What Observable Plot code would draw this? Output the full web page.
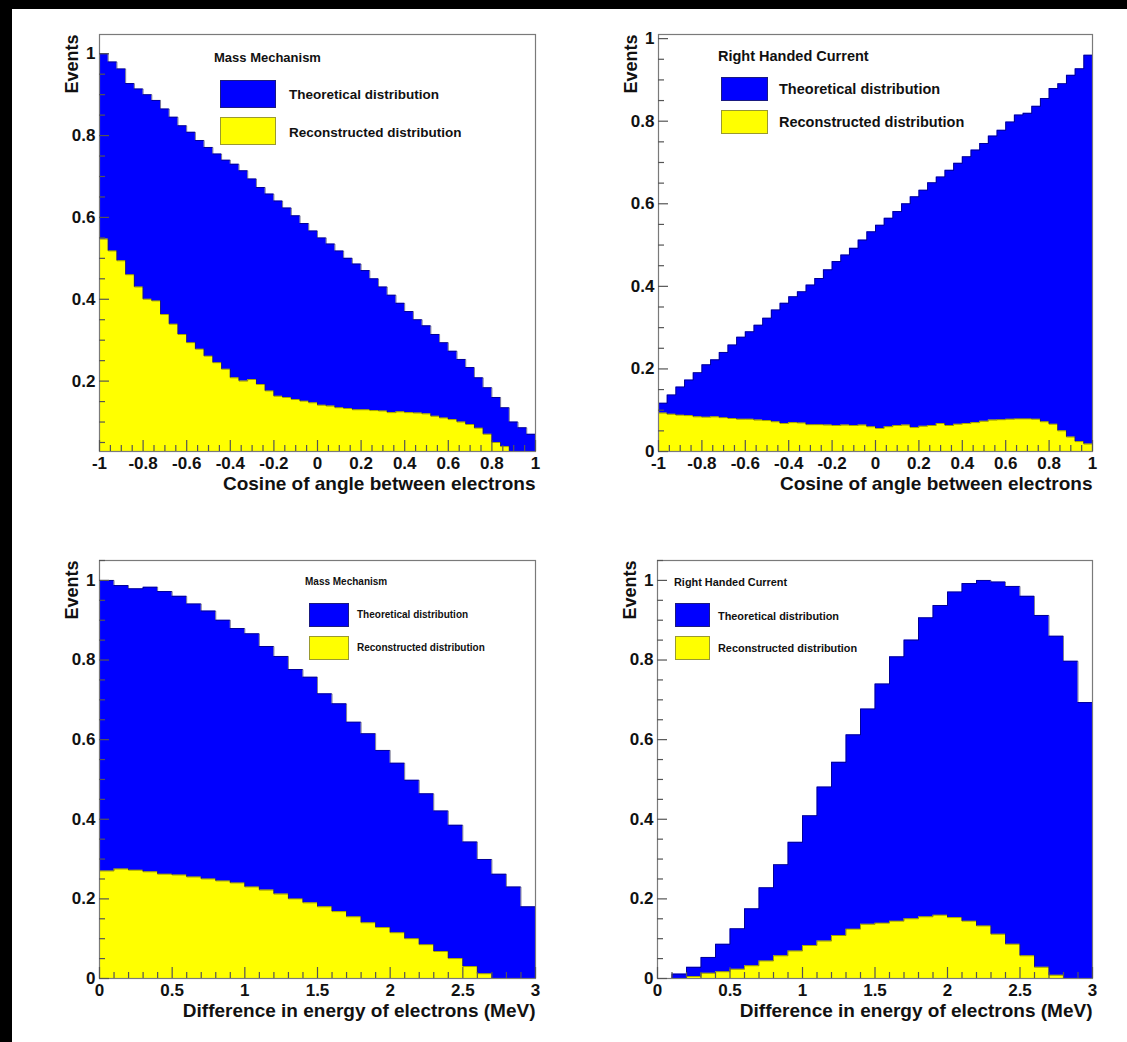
<!DOCTYPE html>
<html>
<head>
<meta charset="utf-8">
<script src="https://cdn.jsdelivr.net/npm/d3@7"></script>
<script src="https://cdn.jsdelivr.net/npm/@observablehq/plot@0.6"></script>
<style>
  html, body { margin: 0; padding: 0; background: #fff; }
  #page { position: relative; width: 1127px; height: 1042px; background: #fff; overflow: hidden;
          font-family: "Liberation Sans", Arial, Helvetica, sans-serif; }
  .panel { position: absolute; }
  .panel svg { display: block; overflow: visible; }
  .leg { position: absolute; font-weight: bold; color: #111; white-space: nowrap; line-height: 1; }
  .box { position: absolute; box-sizing: border-box; }
  .edge { position: absolute; background: #000; z-index: 5; }
</style>
</head>
<body>
<div id="page"></div>
<script>
// ---------------- data ----------------
const cosBinEdges = [-1, -0.96, -0.92, -0.88, -0.84, -0.8, -0.76, -0.72, -0.68, -0.64,
  -0.6, -0.56, -0.52, -0.48, -0.44, -0.4, -0.36, -0.32, -0.28, -0.24,
  -0.2, -0.16, -0.12, -0.08, -0.04, 0, 0.04, 0.08, 0.12, 0.16,
  0.2, 0.24, 0.28, 0.32, 0.36, 0.4, 0.44, 0.48, 0.52, 0.56,
  0.6, 0.64, 0.68, 0.72, 0.76, 0.8, 0.84, 0.88, 0.92, 0.96];
const cosBinWidth = 0.04;
const energyBinEdges = [0, 0.1, 0.2, 0.3, 0.4, 0.5, 0.6, 0.7, 0.8, 0.9,
  1.0, 1.1, 1.2, 1.3, 1.4, 1.5, 1.6, 1.7, 1.8, 1.9,
  2.0, 2.1, 2.2, 2.3, 2.4, 2.5, 2.6, 2.7, 2.8, 2.9];
const energyBinWidth = 0.1;

// Mass mechanism, cosine of angle
const massCosTheo = [1.0, 0.98, 0.963, 0.927, 0.914, 0.9, 0.886, 0.865, 0.845, 0.824,
  0.808, 0.788, 0.771, 0.755, 0.74, 0.73, 0.714, 0.694, 0.673, 0.657,
  0.64, 0.623, 0.604, 0.585, 0.567, 0.55, 0.535, 0.518, 0.5, 0.486,
  0.47, 0.45, 0.43, 0.41, 0.39, 0.37, 0.35, 0.335, 0.314, 0.294,
  0.273, 0.253, 0.233, 0.208, 0.184, 0.16, 0.135, 0.1, 0.086, 0.07];
const massCosReco = [0.547, 0.518, 0.494, 0.46, 0.43, 0.4, 0.396, 0.363, 0.339, 0.314,
  0.294, 0.278, 0.261, 0.245, 0.229, 0.208, 0.2, 0.204, 0.192, 0.176,
  0.163, 0.16, 0.155, 0.151, 0.147, 0.141, 0.139, 0.135, 0.133, 0.13,
  0.13, 0.128, 0.127, 0.123, 0.125, 0.123, 0.122, 0.12, 0.114, 0.11,
  0.106, 0.1, 0.094, 0.085, 0.07, 0.05, 0.04, 0, 0, 0];

// Right handed current, cosine of angle
const rhcCosTheo = [0.117, 0.137, 0.156, 0.173, 0.191, 0.21, 0.222, 0.24, 0.258, 0.277,
  0.29, 0.306, 0.323, 0.343, 0.359, 0.375, 0.387, 0.403, 0.419, 0.44,
  0.46, 0.476, 0.492, 0.512, 0.532, 0.548, 0.565, 0.581, 0.6, 0.617,
  0.633, 0.651, 0.665, 0.681, 0.698, 0.714, 0.73, 0.746, 0.764, 0.778,
  0.798, 0.815, 0.819, 0.836, 0.855, 0.879, 0.891, 0.911, 0.927, 0.96];
const rhcCosReco = [0.093, 0.09, 0.088, 0.087, 0.084, 0.083, 0.084, 0.082, 0.08, 0.078,
  0.078, 0.076, 0.075, 0.072, 0.068, 0.07, 0.069, 0.065, 0.065, 0.064,
  0.063, 0.064, 0.063, 0.064, 0.06, 0.056, 0.06, 0.063, 0.064, 0.058,
  0.061, 0.063, 0.068, 0.063, 0.066, 0.068, 0.07, 0.073, 0.076, 0.077,
  0.078, 0.079, 0.079, 0.078, 0.072, 0.066, 0.05, 0.035, 0.024, 0.018];

// Mass mechanism, energy difference
const massEnergyTheo = [1.0, 0.987, 0.979, 0.983, 0.972, 0.96, 0.941, 0.923, 0.9, 0.879,
  0.866, 0.834, 0.809, 0.776, 0.757, 0.715, 0.69, 0.644, 0.615, 0.573,
  0.541, 0.498, 0.464, 0.421, 0.385, 0.343, 0.299, 0.262, 0.23, 0.18];
const massEnergyReco = [0.27, 0.275, 0.272, 0.268, 0.262, 0.26, 0.255, 0.25, 0.245, 0.24,
  0.23, 0.222, 0.212, 0.2, 0.19, 0.18, 0.168, 0.155, 0.14, 0.128,
  0.115, 0.1, 0.085, 0.068, 0.05, 0.03, 0.012, 0, 0, 0];

// Right handed current, energy difference
const rhcEnergyTheo = [0, 0.011, 0.028, 0.053, 0.086, 0.125, 0.175, 0.228, 0.286, 0.342,
  0.409, 0.481, 0.543, 0.612, 0.677, 0.74, 0.808, 0.85, 0.906, 0.937,
  0.971, 0.992, 1.0, 0.996, 0.985, 0.96, 0.912, 0.86, 0.797, 0.693];
const rhcEnergyReco = [0, 0, 0.005, 0.013, 0.017, 0.023, 0.032, 0.044, 0.057, 0.069,
  0.083, 0.094, 0.108, 0.124, 0.136, 0.139, 0.144, 0.15, 0.155, 0.159,
  0.153, 0.144, 0.132, 0.111, 0.086, 0.057, 0.028, 0.008, 0, 0];

// ticks and labels
const cosMajorTicks = [-1, -0.8, -0.6, -0.4, -0.2, 0, 0.2, 0.4, 0.6, 0.8, 1];
const energyMajorTicks = [0, 0.5, 1, 1.5, 2, 2.5, 3];
const eventsMajorTicks = [0, 0.2, 0.4, 0.6, 0.8, 1];
const cosMinorStep = 0.05, energyMinorStep = 0.1, eventsMinorStep = 0.05;

const seriesNames = ["Theoretical distribution", "Reconstructed distribution"];
const seriesColors = ["#0000ff", "#ffff00"];
const modelNames = ["Mass Mechanism", "Right Handed Current"];
const xTitles = ["Cosine of angle between electrons", "Difference in energy of electrons (MeV)"];
const yTitle = "Events";

// ---------------- drawing ----------------
const fmt = d => String(+(+d).toFixed(2));
const FONT = "Liberation Sans, Arial, Helvetica, sans-serif";

function minorTicks(domain, step) {
  const out = [];
  const n0 = Math.ceil(domain[0] / step - 1e-9), n1 = Math.floor(domain[1] / step + 1e-9);
  for (let i = n0; i <= n1; i++) out.push(+(i * step).toFixed(4));
  return out;
}

// histogram outline points (bin lower edges + closing edge)
function outline(edges, bw, vals) {
  const pts = [{x: edges[0], y: 0}];
  edges.forEach((e, i) => pts.push({x: e, y: vals[i]}));
  const end = edges[edges.length - 1] + bw;
  pts.push({x: end, y: vals[vals.length - 1]});
  pts.push({x: end, y: 0});
  return pts;
}

function panel(cfg) {
  const {edges, bw, theo, reco, xDomain, yDomain, xMajor, xMinorStep, xTitle,
         W, H, ml, mr, mt, mb} = cfg;
  const fw = W - ml - mr, fh = H - mt - mb;
  const theoPts = outline(edges, bw, theo);
  const recoPts = outline(edges, bw, reco);
  const xMinor = minorTicks(xDomain, xMinorStep).filter(v => !xMajor.some(m => Math.abs(m - v) < 1e-6));
  const yMajor = eventsMajorTicks.filter(v => v >= yDomain[0] - 1e-9 && v <= yDomain[1]);
  const yMinor = minorTicks(yDomain, eventsMinorStep).filter(v => !eventsMajorTicks.some(m => Math.abs(m - v) < 1e-6));
  return Plot.plot({
    width: W, height: H,
    marginLeft: ml, marginRight: mr, marginTop: mt, marginBottom: mb,
    x: {domain: xDomain, label: null},
    y: {domain: yDomain, label: null},
    style: {background: "transparent", fontFamily: FONT, overflow: "visible"},
    marks: [
      Plot.areaY(theoPts, {x: "x", y1: 0, y2: "y", curve: "step-after", fill: seriesColors[0], clip: true}),
      Plot.areaY(recoPts, {x: "x", y1: 0, y2: "y", curve: "step-after", fill: seriesColors[1], clip: true}),
      Plot.line(theoPts, {x: "x", y: "y", curve: "step-after", stroke: "#000030", strokeOpacity: 0.5, strokeWidth: 1, clip: true}),
      Plot.line(recoPts, {x: "x", y: "y", curve: "step-after", stroke: "#303000", strokeOpacity: 0.45, strokeWidth: 1, clip: true}),
      Plot.frame({stroke: "#7a7a7a", strokeWidth: 1.2}),
      Plot.tickX(xMajor, {x: d => d, insetTop: fh - 11, stroke: "#555", strokeWidth: 1.2}),
      Plot.tickX(xMinor, {x: d => d, insetTop: fh - 6, stroke: "#555", strokeWidth: 1.2}),
      Plot.tickY(yMajor, {y: d => d, insetRight: fw - 10, stroke: "#555", strokeWidth: 1.2}),
      Plot.tickY(yMinor, {y: d => d, insetRight: fw - 6, stroke: "#555", strokeWidth: 1.2}),
      Plot.axisX(xMajor, {tickSize: 0, tickPadding: 5, fontSize: 17, fontWeight: "bold", tickFormat: fmt, label: null, fill: "#111"}),
      Plot.axisY(yMajor, {tickSize: 0, tickPadding: 4, fontSize: 17, fontWeight: "bold", tickFormat: fmt, label: null, fill: "#111"}),
      Plot.text([xTitle], {text: d => d, frameAnchor: "bottom-right", textAnchor: "end", dy: 38, fontSize: 19, fontWeight: "bold", fill: "#111"}),
      Plot.text([yTitle], {text: d => d, frameAnchor: "top-left", rotate: -90, textAnchor: "end", dx: -34, fontSize: 18, fontWeight: "bold", fill: "#111"})
    ]
  });
}

const page = document.getElementById("page");

const panels = [
  {left: 0, top: 0, W: 560, H: 520, ml: 99, mr: 25, mt: 34, mb: 69,
   edges: cosBinEdges, bw: cosBinWidth, theo: massCosTheo, reco: massCosReco,
   xDomain: [-1, 1], yDomain: [0.028, 1.047], xMajor: cosMajorTicks, xMinorStep: cosMinorStep, xTitle: xTitles[0],
   legend: {title: modelNames[0], tx: 214, ty: 57.5, tf: 13, bx: 220, bw: 56, by: [80, 117], bh: 27.5, lx: 289, ly: [94.5, 132], lf: 13.5}},
  {left: 560, top: 0, W: 567, H: 520, ml: 98, mr: 35, mt: 34, mb: 69,
   edges: cosBinEdges, bw: cosBinWidth, theo: rhcCosTheo, reco: rhcCosReco,
   xDomain: [-1, 1], yDomain: [0, 1.01], xMajor: cosMajorTicks, xMinorStep: cosMinorStep, xTitle: xTitles[0],
   legend: {title: modelNames[1], tx: 718, ty: 56, tf: 14.5, bx: 721, bw: 47, by: [77, 110], bh: 23.5, lx: 779, ly: [89, 122], lf: 14.5}},
  {left: 0, top: 520, W: 560, H: 522, ml: 99, mr: 25, mt: 40, mb: 64,
   edges: energyBinEdges, bw: energyBinWidth, theo: massEnergyTheo, reco: massEnergyReco,
   xDomain: [0, 3], yDomain: [0, 1.05], xMajor: energyMajorTicks, xMinorStep: energyMinorStep, xTitle: xTitles[1],
   legend: {title: modelNames[0], tx: 305, ty: 582, tf: 10, bx: 309, bw: 40, by: [603, 636], bh: 24, lx: 357, ly: [615, 648], lf: 10}},
  {left: 560, top: 520, W: 567, H: 522, ml: 97, mr: 35, mt: 40, mb: 64,
   edges: energyBinEdges, bw: energyBinWidth, theo: rhcEnergyTheo, reco: rhcEnergyReco,
   xDomain: [0, 3], yDomain: [0, 1.05], xMajor: energyMajorTicks, xMinorStep: energyMinorStep, xTitle: xTitles[1],
   legend: {title: modelNames[1], tx: 674, ty: 582, tf: 10.9, bx: 675, bw: 35, by: [603, 636], bh: 24, lx: 718, ly: [616, 648], lf: 10.9}}
];

panels.forEach(p => {
  const div = document.createElement("div");
  div.className = "panel";
  div.style.left = p.left + "px";
  div.style.top = p.top + "px";
  div.appendChild(panel(p));
  page.appendChild(div);

  const L = p.legend;
  const addText = (txt, x, cy, fs) => {
    const t = document.createElement("div");
    t.className = "leg";
    t.textContent = txt;
    t.style.left = x + "px";
    t.style.top = (cy - 0.48 * fs) + "px";
    t.style.fontSize = fs + "px";
    page.appendChild(t);
  };
  addText(L.title, L.tx, L.ty, L.tf);
  seriesNames.forEach((name, i) => {
    const b = document.createElement("div");
    b.className = "box";
    b.style.left = L.bx + "px";
    b.style.top = L.by[i] + "px";
    b.style.width = L.bw + "px";
    b.style.height = L.bh + "px";
    b.style.background = seriesColors[i];
    b.style.border = "1.5px solid " + (i === 0 ? "#1a1a80" : "#9a9a30");
    page.appendChild(b);
    addText(name, L.lx, L.ly[i], L.lf);
  });
});

// black scan border of the reference image
[[0, 0, 1127, 9], [0, 0, 12, 1042]].forEach(([x, y, w, h]) => {
  const e = document.createElement("div");
  e.className = "edge";
  Object.assign(e.style, {left: x + "px", top: y + "px", width: w + "px", height: h + "px"});
  page.appendChild(e);
});
</script>
</body>
</html>
